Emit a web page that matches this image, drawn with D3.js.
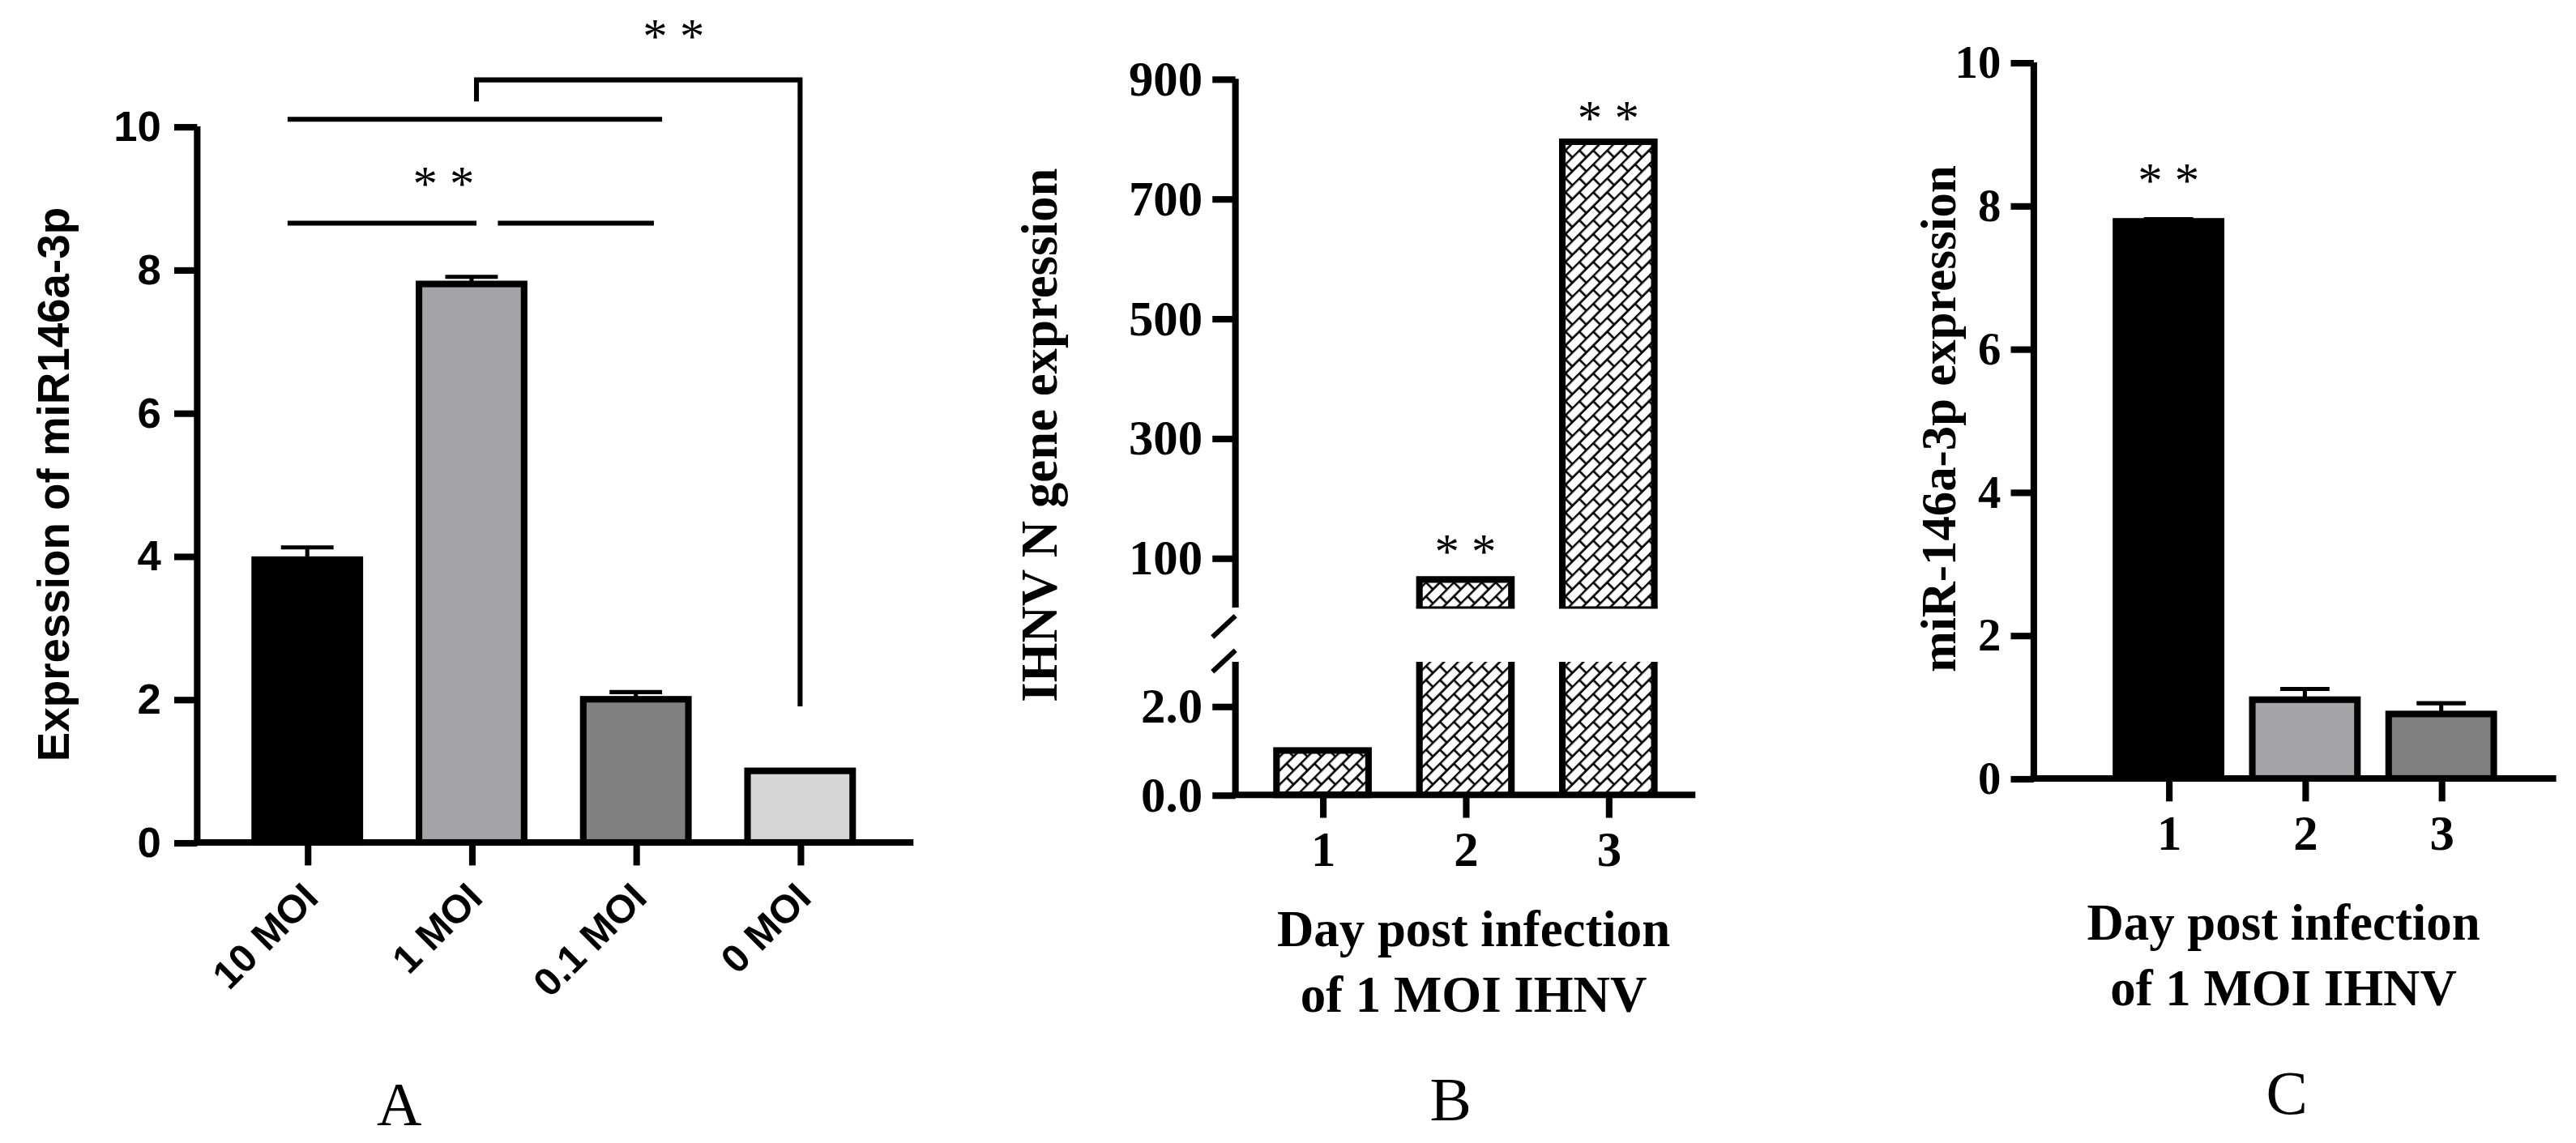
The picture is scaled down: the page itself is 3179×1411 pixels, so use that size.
<!DOCTYPE html>
<html><head><meta charset="utf-8">
<script src="https://cdn.jsdelivr.net/npm/d3@7"></script>
<style>body{margin:0;background:#fff}</style>
</head><body><div id="chart"></div>
<script>
// panel A
const catsA = ['10 MOI', '1 MOI', '0.1 MOI', '0 MOI'];
const valsA = [3.95, 7.8, 2.0, 1.0];
const errA = [0.17, 0.1, 0.1, 0];
const colA = ['#000000', '#a3a3a8', '#808080', '#d6d6d6'];
const ticksA = [0, 2, 4, 6, 8, 10];
// panel B
const catsB = ['1', '2', '3'];
const valsB = [1.0, 64, 795];
const ticksBLow = [0, 2];
const ticksBHigh = [100, 300, 500, 700, 900];
// panel C
const catsC = ['1', '2', '3'];
const valsC = [7.78, 1.1, 0.9];
const errC = [0.03, 0.15, 0.15];
const colC = ['#000000', '#a3a3a8', '#808080'];
const ticksC = [0, 2, 4, 6, 8, 10];

const svg = d3.select('#chart').append('svg')
    .attr('width', 3179).attr('height', 1411)
    .attr('viewBox', '0 0 1568 696');

const serif = '"Liberation Serif", "Times New Roman", serif';
const sans = '"Liberation Sans", Arial, sans-serif';
const SW = 4;

// brick hatch pattern
const pat = svg.append('defs').append('pattern')
    .attr('id', 'brick').attr('patternUnits', 'userSpaceOnUse')
    .attr('width', 12).attr('height', 12)
    .attr('patternTransform', 'rotate(-45)');
pat.append('rect').attr('width', 12).attr('height', 12).attr('fill', '#fff');
pat.append('path').attr('d', 'M0,0.5H12M0,6.5H12M3,0.5V6.5M9,6.5V12.5')
    .attr('stroke', '#000').attr('stroke-width', 1.3).attr('fill', 'none');

function line(x1, y1, x2, y2, w) {
    svg.append('line').attr('x1', x1).attr('y1', y1).attr('x2', x2).attr('y2', y2)
        .attr('stroke', '#000').attr('stroke-width', w || SW);
}
function text(t, x, y, size, font, opts) {
    const el = svg.append('text').attr('x', x).attr('y', y).text(t)
        .attr('font-family', font).attr('font-size', size)
        .attr('font-weight', 'bold').attr('text-anchor', 'middle');
    if (opts && opts.rot) el.attr('transform', `rotate(${opts.rot},${x},${y})`);
    if (opts && opts.anchor) el.attr('text-anchor', opts.anchor);
    if (opts && opts.normal) el.attr('font-weight', 'normal');
    return el;
}

// ---------- Panel A ----------
{
    const y = d3.scaleLinear().domain([0, 10]).range([513, 77]);
    const x = d3.scalePoint().domain(catsA).range([187, 487]);
    const bw = 64;
    catsA.forEach((c, i) => {
        if (errA[i] > 0) {
            line(x(c), y(valsA[i]), x(c), y(valsA[i] + errA[i]), 2.5);
            line(x(c) - 16, y(valsA[i] + errA[i]), x(c) + 16, y(valsA[i] + errA[i]), 2.5);
        }
        svg.append('rect').attr('x', x(c) - bw / 2).attr('y', y(valsA[i]))
            .attr('width', bw).attr('height', y(0) - y(valsA[i]))
            .attr('fill', colA[i]).attr('stroke', '#000').attr('stroke-width', SW);
    });
    const ax = svg.append('g').attr('transform', 'translate(120,0)')
        .call(d3.axisLeft(y).tickValues(ticksA).tickSize(14).tickPadding(8));
    ax.select('.domain').attr('stroke-width', SW).attr('d', `M0,${y(10)}V${y(0)}`);
    ax.selectAll('.tick line').attr('stroke-width', SW);
    ax.selectAll('text').attr('font-family', sans).attr('font-weight', 'bold').attr('font-size', 26);
    const bx = svg.append('g').attr('transform', `translate(0,${y(0)})`)
        .call(d3.axisBottom(x).tickSize(14).tickSizeOuter(0).tickFormat(''));
    bx.select('.domain').attr('stroke-width', SW).attr('d', `M118,0H556`);
    bx.selectAll('.tick line').attr('stroke-width', SW);
    catsA.forEach(c => text(c, x(c) + 8, 548, 24, sans, {rot: -45, anchor: 'end'}));
    text('Expression of miR146a-3p', 42, 295, 27, sans, {rot: -90});
    // significance
    line(175, y(10.1), 403, y(10.1), 3);
    line(175, y(8.65), 290, y(8.65), 3);
    line(303, y(8.65), 398, y(8.65), 3);
    text('* *', 270, 122, 30, serif, {normal: true});
    svg.append('path').attr('fill', 'none').attr('stroke', '#000').attr('stroke-width', 3)
        .attr('d', `M${x('1 MOI') + 3},${y(10.35)}V${y(10.65)}H${x('0 MOI')}V${y(1.9)}`);
    text('* *', 410, 32, 30, serif, {normal: true});
    text('A', 243, 685, 38, serif, {normal: true});
}

// ---------- Panel B ----------
{
    const yLo = d3.scaleLinear().domain([0, 3]).range([484, 403]);
    const yHi = d3.scaleLinear().domain([17, 900]).range([370, 48]);
    const x = d3.scalePoint().domain(catsB).range([805, 979]);
    const bw = 56;
    catsB.forEach((c, i) => {
        const v = valsB[i];
        const g = {fill: 'url(#brick)', stroke: '#000', sw: SW};
        if (v <= 3) {
            svg.append('rect').attr('x', x(c) - bw / 2).attr('y', yLo(v))
                .attr('width', bw).attr('height', yLo(0) - yLo(v))
                .attr('fill', g.fill).attr('stroke', g.stroke).attr('stroke-width', g.sw);
        } else {
            svg.append('rect').attr('x', x(c) - bw / 2).attr('y', yLo(3))
                .attr('width', bw).attr('height', yLo(0) - yLo(3))
                .attr('fill', g.fill).attr('stroke', 'none');
            line(x(c) - bw / 2, yLo(3), x(c) - bw / 2, yLo(0));
            line(x(c) + bw / 2, yLo(3), x(c) + bw / 2, yLo(0));
            svg.append('rect').attr('x', x(c) - bw / 2).attr('y', yHi(v))
                .attr('width', bw).attr('height', yHi(17) - yHi(v))
                .attr('fill', g.fill).attr('stroke', 'none');
            svg.append('path').attr('fill', 'none').attr('stroke', '#000').attr('stroke-width', SW)
                .attr('d', `M${x(c) - bw / 2},${yHi(17)}V${yHi(v)}H${x(c) + bw / 2}V${yHi(17)}`);
            line(x(c) - bw / 2 - 2, yHi(17), x(c) + bw / 2 + 2, yHi(17), 1.5);
        }
    });
    const ax1 = svg.append('g').attr('transform', 'translate(752,0)')
        .call(d3.axisLeft(yLo).tickValues(ticksBLow).tickSize(14).tickPadding(6));
    ax1.select('.domain').attr('stroke-width', SW).attr('d', `M0,${yLo(0)}V${yLo(3)}`);
    const ax2 = svg.append('g').attr('transform', 'translate(752,0)')
        .call(d3.axisLeft(yHi).tickValues(ticksBHigh).tickSize(14).tickPadding(6));
    ax2.select('.domain').attr('stroke-width', SW).attr('d', `M0,${yHi(17)}V${yHi(900)}`);
    [ax1, ax2].forEach(a => {
        a.selectAll('.tick line').attr('stroke-width', SW);
        a.selectAll('text').attr('font-family', serif).attr('font-weight', 'bold').attr('font-size', 30);
    });
    line(738, 409, 752, 396, 3);
    line(738, 388, 752, 375, 3);
    const bx = svg.append('g').attr('transform', `translate(0,${yLo(0)})`)
        .call(d3.axisBottom(x).tickSize(14).tickSizeOuter(0).tickPadding(8));
    bx.select('.domain').attr('stroke-width', SW).attr('d', 'M750,0H1032');
    bx.selectAll('.tick line').attr('stroke-width', SW);
    bx.selectAll('text').attr('font-family', serif).attr('font-weight', 'bold').attr('font-size', 30).attr('fill', '#000');
    text('* *', x('2'), 346, 30, serif, {normal: true});
    text('* *', x('3'), 82, 30, serif, {normal: true});
    text('Day post infection', 897, 576, 31, serif);
    text('of 1 MOI IHNV', 897, 616, 31, serif);
    text('IHNV N gene expression', 643, 265, 31, serif, {rot: -90});
    text('B', 883, 682, 38, serif, {normal: true});
}

// ---------- Panel C ----------
{
    const y = d3.scaleLinear().domain([0, 10]).range([474, 38]);
    const x = d3.scalePoint().domain(catsC).range([1320, 1486]);
    const bw = 64;
    catsC.forEach((c, i) => {
        line(x(c), y(valsC[i]), x(c), y(valsC[i] + errC[i]), 2.5);
        line(x(c) - 15, y(valsC[i] + errC[i]), x(c) + 15, y(valsC[i] + errC[i]), 2.5);
        svg.append('rect').attr('x', x(c) - bw / 2).attr('y', y(valsC[i]))
            .attr('width', bw).attr('height', y(0) - y(valsC[i]))
            .attr('fill', colC[i]).attr('stroke', '#000').attr('stroke-width', SW);
    });
    const ax = svg.append('g').attr('transform', 'translate(1238,0)')
        .call(d3.axisLeft(y).tickValues(ticksC).tickSize(14).tickPadding(6));
    ax.select('.domain').attr('stroke-width', SW).attr('d', `M0,${y(10)}V${y(0)}`);
    ax.selectAll('.tick line').attr('stroke-width', SW);
    ax.selectAll('text').attr('font-family', serif).attr('font-weight', 'bold').attr('font-size', 28);
    const bx = svg.append('g').attr('transform', `translate(0,${y(0)})`)
        .call(d3.axisBottom(x).tickSize(14).tickSizeOuter(0).tickPadding(8));
    bx.select('.domain').attr('stroke-width', SW).attr('d', 'M1236,0H1556');
    bx.selectAll('.tick line').attr('stroke-width', SW);
    bx.selectAll('text').attr('font-family', serif).attr('font-weight', 'bold').attr('font-size', 30).attr('fill', '#000');
    text('* *', x('1'), 120, 30, serif, {normal: true});
    text('Day post infection', 1390, 572, 31, serif);
    text('of 1 MOI IHNV', 1390, 612, 31, serif);
    text('miR-146a-3p expression', 1190, 255, 30, serif, {rot: -90});
    text('C', 1392, 678, 38, serif, {normal: true});
}
</script></body></html>
